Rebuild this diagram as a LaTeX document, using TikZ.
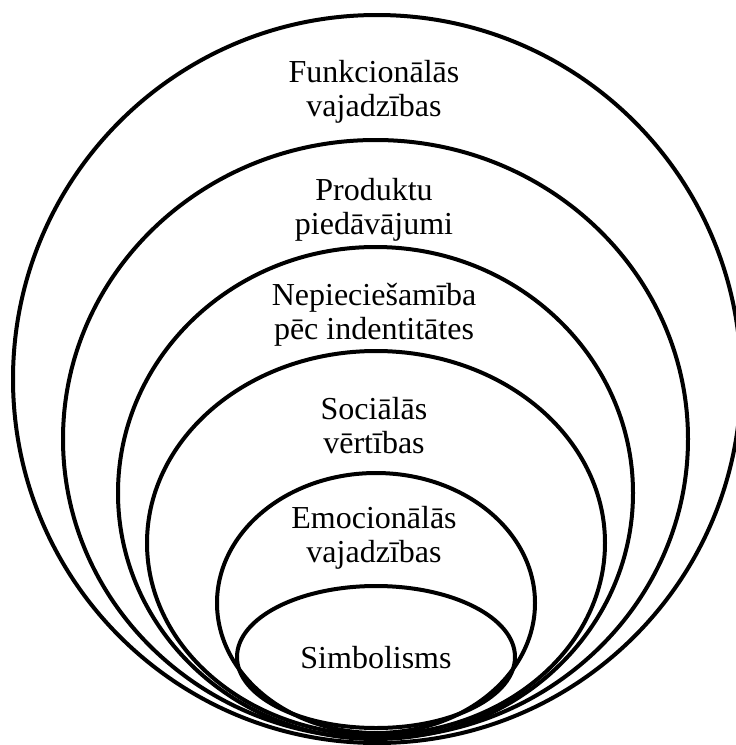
\documentclass[tikz,border=0pt]{standalone}
\usepackage{fontspec}
\setmainfont{Liberation Serif}
\begin{document}
\begin{tikzpicture}[x=1pt,y=-1pt,
  ring/.style={draw=black,line width=4pt},
  label/.style={align=center,inner sep=0pt,font=\fontsize{32}{34}\selectfont}]
\useasboundingbox (0,0) rectangle (736,745);
\clip (0,0) rectangle (736,745);
% nested rings, all resting on the same bottom line
\draw[ring] (377,379) ellipse [x radius=364, y radius=364];
\draw[ring] (375.5,439) ellipse [x radius=312.5, y radius=299];
\draw[ring] (375.5,493) ellipse [x radius=257.5, y radius=246];
\draw[ring] (376,543) ellipse [x radius=229, y radius=192];
\draw[ring] (376,603) ellipse [x radius=159, y radius=130];
\draw[ring] (376,657) ellipse [x radius=139, y radius=71];
% ring captions
\node[label] (funk) at (374,92) {Funkcionālās\\vajadzības};
\node[label] (prod) at (374,210) {Produktu\\piedāvājumi};
\node[label] (nep)  at (374,315) {Nepieciešamība\\pēc indentitātes};
\node[label] (soc)  at (374,426) {Sociālās\\vērtības};
\node[label] (emo)  at (374,538) {Emocionālās\\vajadzības};
\node[label] (simb) at (376,658) {Simbolisms};
\end{tikzpicture}
\end{document}
